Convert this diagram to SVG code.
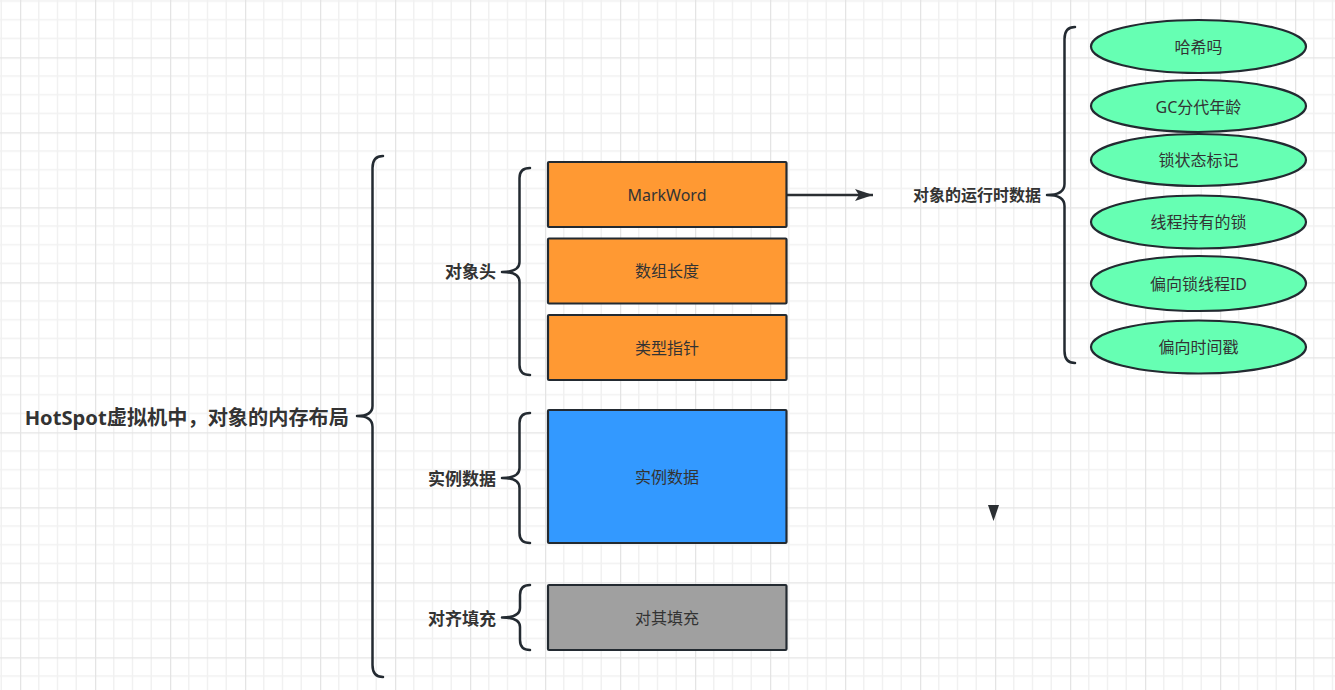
<svg xmlns="http://www.w3.org/2000/svg" width="1335" height="690" viewBox="0 0 1335 690">
<defs>
<pattern id="grid" patternUnits="userSpaceOnUse" x="20" y="57.3" width="75" height="75">
<path d="M18.75 0V75M37.5 0V75M56.25 0V75M0 18.75H75M0 37.5H75M0 56.25H75" stroke="#f1f1f1" stroke-width="1.5" fill="none"/>
<path d="M0.5 0V75M0 0.5H75" stroke="#e4e4e4" stroke-width="1.5" fill="none"/>
</pattern>
<marker id="arr" markerWidth="20" markerHeight="14" refX="18" refY="7" orient="auto" markerUnits="userSpaceOnUse">
<path d="M0 1 L18 7 L0 13 L4 7 Z" fill="#2b2f33"/>
</marker>
<style>
.brace{fill:none;stroke:#232a31;stroke-width:2.5;stroke-linecap:round;stroke-linejoin:round}
.box{stroke:#232a31;stroke-width:2.2}
.ell{fill:#66ffb3;stroke:#232a31;stroke-width:2.2}
.t{font-family:"Noto Sans","Noto Sans CJK SC",sans-serif;font-size:16px;fill:#333333;text-anchor:middle;dominant-baseline:central}
.b{font-family:"Noto Sans","Noto Sans CJK SC",sans-serif;font-size:17px;font-weight:bold;fill:#333333;text-anchor:end;dominant-baseline:central}
</style>
</defs>
<rect width="1335" height="690" fill="#ffffff"/>
<rect width="1335" height="690" fill="url(#grid)"/>

<g id="connectors">
<path d="M787 195 H873" stroke="#2b2f33" stroke-width="2.4" fill="none" marker-end="url(#arr)"/>
<path d="M988 505 L999 505 L993.5 521 Z" fill="#2b2f33"/>
</g>

<g id="main">
<path class="brace" d="M383 156 Q372.5 156 372.5 168 L372.5 406 Q372.5 416 357 416 Q372.5 416 372.5 427 L372.5 665 Q372.5 677 383 677"/>
<text class="b" x="349" y="417" style="font-size:20.2px">HotSpot虚拟机中，对象的内存布局</text>
</g>

<g id="header">
<path class="brace" d="M530 168 Q519.5 168 519.5 178 L519.5 262 Q519.5 272 502 272 Q519.5 272 519.5 282 L519.5 365 Q519.5 375 530 375"/>
<text class="b" x="496" y="271">对象头</text>
</g>

<g id="instance">
<path class="brace" d="M530 413 Q519.5 413 519.5 423 L519.5 468 Q519.5 478 502 478 Q519.5 478 519.5 488 L519.5 533 Q519.5 543 530 543"/>
<text class="b" x="496" y="478">实例数据</text>
</g>

<g id="padding">
<path class="brace" d="M530 585 Q520 585 520 595 L520 608 Q520 617.5 502 617.5 Q520 617.5 520 627 L520 640 Q520 650 530 650"/>
<text class="b" x="496" y="618">对齐填充</text>
</g>

<g id="markword">
<rect class="box" x="548" y="162" width="238.5" height="65" rx="1" fill="#ff9933"/>
<text class="t" x="667" y="195">MarkWord</text>
</g>
<g id="arraylen">
<rect class="box" x="548" y="238.5" width="238.5" height="65" rx="1" fill="#ff9933"/>
<text class="t" x="667" y="271">数组长度</text>
</g>
<g id="typeptr">
<rect class="box" x="548" y="315" width="238.5" height="65" rx="1" fill="#ff9933"/>
<text class="t" x="667" y="348">类型指针</text>
</g>
<g id="instdata">
<rect class="box" x="548" y="410" width="238.5" height="133" rx="1" fill="#3399ff"/>
<text class="t" x="667" y="477">实例数据</text>
</g>
<g id="align">
<rect class="box" x="548" y="585" width="238.5" height="65" rx="1" fill="#a0a0a0"/>
<text class="t" x="667" y="618">对其填充</text>
</g>

<g id="runtime">
<text class="b" x="1041" y="195" style="font-size:16px">对象的运行时数据</text>
<path class="brace" d="M1075 27 Q1064.5 27 1064.5 39 L1064.5 184 Q1064.5 195 1047 195 Q1064.5 195 1064.5 206 L1064.5 351 Q1064.5 363 1075 363"/>
</g>

<g id="hash"><ellipse class="ell" cx="1198.5" cy="46.5" rx="107.5" ry="26.5"/><text class="t" x="1198.5" y="46.5">哈希吗</text></g>
<g id="gcage"><ellipse class="ell" cx="1198.5" cy="106" rx="107.5" ry="26"/><text class="t" x="1198.5" y="107">GC分代年龄</text></g>
<g id="lockstate"><ellipse class="ell" cx="1198.5" cy="160" rx="107.5" ry="26"/><text class="t" x="1198.5" y="160">锁状态标记</text></g>
<g id="heldlock"><ellipse class="ell" cx="1198.5" cy="222" rx="107.5" ry="26.5"/><text class="t" x="1198.5" y="222">线程持有的锁</text></g>
<g id="biasid"><ellipse class="ell" cx="1198.5" cy="283.5" rx="107.5" ry="27.5"/><text class="t" x="1198.5" y="284">偏向锁线程ID</text></g>
<g id="biastime"><ellipse class="ell" cx="1198.5" cy="347" rx="107.5" ry="26.5"/><text class="t" x="1198.5" y="347">偏向时间戳</text></g>
</svg>
